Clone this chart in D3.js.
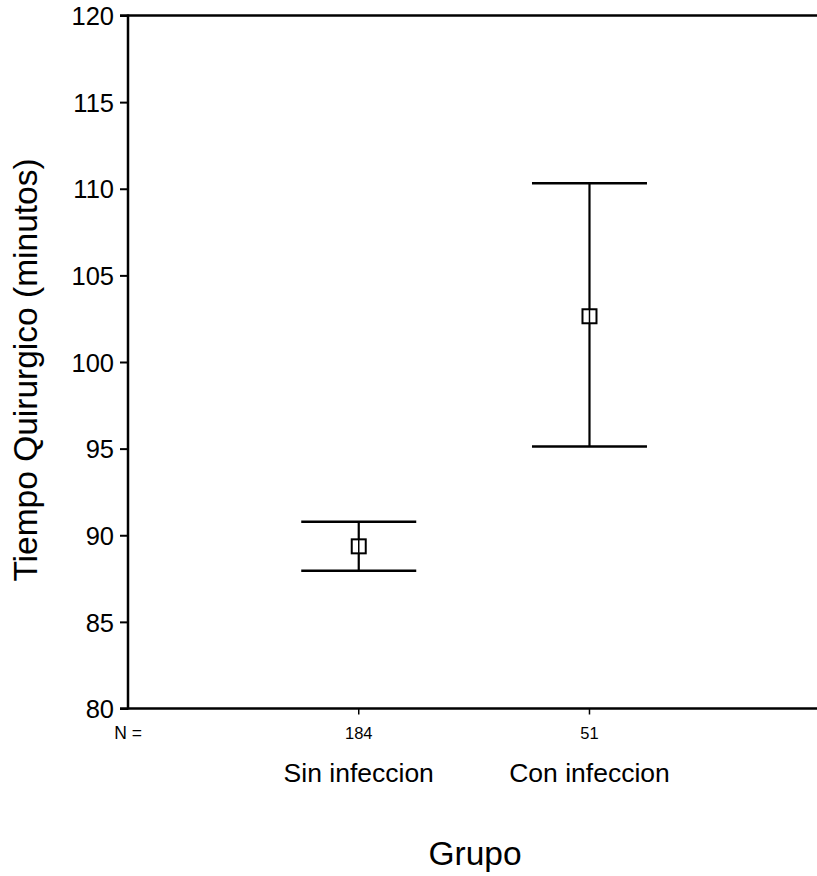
<!DOCTYPE html>
<html><head><meta charset="utf-8">
<script src="https://cdn.jsdelivr.net/npm/d3@7"></script>
<style>body{margin:0;background:#fff}svg{display:block}text{font-family:"Liberation Sans",Arial,sans-serif;fill:#000}</style>
</head><body><svg id="c" width="817" height="876"></svg>
<script>
const groups = ["Sin infeccion", "Con infeccion"];
const counts = [184, 51];
const means = [89.36, 102.64];
const lower = [87.95, 95.12];
const upper = [90.78, 110.32];
const yTicks = [80, 85, 90, 95, 100, 105, 110, 115, 120];

(function () {
const svg = d3.select("#c");
const pLeft = 128, pRight = 817, pTop = 15.5, pBottom = 708.5;
const y = d3.scaleLinear().domain([80, 120]).range([pBottom, pTop]);
const x = d3.scaleLinear().domain([-0.5, 2.486]).range([pLeft, pRight]);
const gx = d3.scaleOrdinal().domain(groups).range([0.5, 1.5].map(v => x(v)));

const yAxis = svg.append("g").attr("transform", `translate(${pLeft},0)`)
  .call(d3.axisLeft(y).tickValues(yTicks).tickSize(8).tickPadding(6));
yAxis.select(".domain").remove();
yAxis.selectAll("line").attr("stroke", "#000").attr("stroke-width", 2);
yAxis.selectAll("text").style("font-size", "25.5px").attr("dy", "0.36em");

svg.append("line").attr("x1", pLeft).attr("x2", pLeft).attr("y1", pTop - 1).attr("y2", pBottom + 1)
  .attr("stroke", "#000").attr("stroke-width", 2.5);
svg.append("line").attr("x1", pLeft - 8).attr("x2", pRight).attr("y1", pTop).attr("y2", pTop)
  .attr("stroke", "#000").attr("stroke-width", 2.5);
svg.append("line").attr("x1", pLeft - 8).attr("x2", pRight).attr("y1", pBottom).attr("y2", pBottom)
  .attr("stroke", "#000").attr("stroke-width", 2.5);

groups.forEach((g, i) => {
  const cx = gx(g);
  svg.append("line").attr("x1", cx).attr("x2", cx).attr("y1", pBottom).attr("y2", pBottom + 6)
    .attr("stroke", "#000").attr("stroke-width", 1.5);
  svg.append("text").attr("x", cx).attr("y", 738.5).attr("text-anchor", "middle")
    .style("font-size", "16.5px").text(counts[i]);
  svg.append("text").attr("x", cx).attr("y", 782).attr("text-anchor", "middle")
    .style("font-size", "26.5px").text(g);
});
svg.append("text").attr("x", 128).attr("y", 739).attr("text-anchor", "middle")
  .style("font-size", "17.5px").text("N =");

const capHalf = 57.5, boxHalf = 7;
groups.forEach((g, i) => {
  const cx = gx(g);
  const eg = svg.append("g").attr("stroke", "#000").attr("stroke-width", 2.2).attr("fill", "none");
  eg.append("line").attr("x1", cx).attr("x2", cx).attr("y1", y(upper[i])).attr("y2", y(lower[i]));
  eg.append("line").attr("x1", cx - capHalf).attr("x2", cx + capHalf).attr("y1", y(upper[i])).attr("y2", y(upper[i])).attr("stroke-width", 2.6);
  eg.append("line").attr("x1", cx - capHalf).attr("x2", cx + capHalf).attr("y1", y(lower[i])).attr("y2", y(lower[i])).attr("stroke-width", 2.6);
  eg.append("rect").attr("x", cx - boxHalf).attr("y", y(means[i]) - boxHalf)
    .attr("width", boxHalf * 2).attr("height", boxHalf * 2).attr("fill", "#fff").attr("stroke-width", 2);
  eg.append("line").attr("x1", cx).attr("x2", cx).attr("y1", y(means[i]) - boxHalf).attr("y2", y(means[i]) + boxHalf).attr("stroke-width", 1.5);
});

svg.append("text").attr("transform", `translate(37,370) rotate(-90)`)
  .attr("text-anchor", "middle").style("font-size", "33.5px").text("Tiempo Quirurgico (minutos)");
svg.append("text").attr("x", 475).attr("y", 865).attr("text-anchor", "middle")
  .style("font-size", "33.5px").text("Grupo");
})();
</script></body></html>
